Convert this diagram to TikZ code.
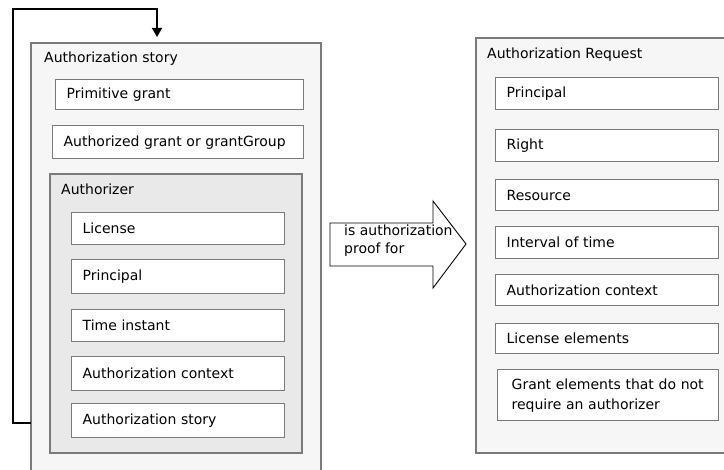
\documentclass[tikz,border=0pt]{standalone}
\usepackage{fontspec}
\setmainfont{DejaVu Sans}
\usetikzlibrary{arrows.meta}
\definecolor{frameline}{HTML}{7A7A7A}
\definecolor{panelfill}{HTML}{F6F6F6}
\definecolor{groupfill}{HTML}{E9E9E9}
\begin{document}
\begin{tikzpicture}[x=1pt,y=-1pt,
  every node/.style={font=\fontsize{14}{18}\selectfont},
  panel/.style={draw=frameline, fill=panelfill, line width=1.3pt},
  group/.style={draw=frameline, fill=groupfill, line width=1.3pt},
  field/.style={draw=frameline, fill=white, line width=1.3pt, anchor=north west,
    inner xsep=11pt, inner ysep=0pt, align=left, text width=#1},
  field/.default=190pt,
  caption/.style={anchor=base west, inner sep=0pt},
  loopline/.style={draw=black, line width=1.4pt, -{Triangle[width=10pt,length=9pt]}},
  bigarrow/.style={draw=black, fill=white, line width=0.9pt}]
\clip (0,0) rectangle (724,470);
\fill[white] (0,0) rectangle (724,470);

% ---- Authorization story panel ----
\path[panel] (31,43) rectangle (321,485);
\node[coordinate] (storytop) at (157,43) {};
\node[coordinate] (storyleft) at (31,423) {};
\node[caption] (storytitle) at (44,63) {Authorization story};
\node[field=226pt, minimum height=30pt] (prim) at (55,79) {Primitive grant};
\node[field=229pt, minimum height=33pt] (authg) at (52,125) {Authorized grant or grantGroup};

% ---- Authorizer group ----
\path[group] (50,174) rectangle (302,453);
\node[caption] (authorizertitle) at (61,195) {Authorizer};
\node[field=191pt, minimum height=32pt] (lic) at (71,212) {License};
\node[field=191pt, minimum height=34pt] (pri) at (71,259) {Principal};
\node[field=191pt, minimum height=32pt] (tim) at (71,309) {Time instant};
\node[field=191pt, minimum height=34pt] (ctx) at (71,356) {Authorization context};
\node[field=191pt, minimum height=34pt] (sto) at (71,403) {Authorization story};

% ---- recursion loop back to the top of the story ----
\draw[loopline, shorten >=6pt] (storyleft) -- (13,423) |- (157,9) -- (storytop);

% ---- Authorization Request panel ----
\path[panel] (476,38) rectangle (735,453);
\node[caption] (reqtitle) at (487,59) {Authorization Request};
\node[field=201pt, minimum height=32pt] (rpri) at (495,77) {Principal};
\node[field=201pt, minimum height=32pt] (rrig) at (495,129) {Right};
\node[field=201pt, minimum height=31pt] (rres) at (495,179) {Resource};
\node[field=201pt, minimum height=32pt] (rint) at (495,226) {Interval of time};
\node[field=201pt, minimum height=31pt] (rctx) at (495,274) {Authorization context};
\node[field=201pt, minimum height=30pt] (rlic) at (495,323) {License elements};
\node[field=193pt, inner xsep=14pt, minimum height=51pt, font=\fontsize{14}{20}\selectfont] (rgra) at (497,369) {Grant elements that do not\\require an authorizer};

% ---- "is authorization proof for" block arrow ----
\draw[bigarrow] (330,223) -- (433,223) -- (433,201) -- (466,244) -- (433,288)
  -- (433,266) -- (330,266) -- cycle;
\node[anchor=north west, inner sep=0pt, align=left, font=\fontsize{14}{18}\selectfont]
  (prooftext) at (344,225) {is authorization\\proof for};
\end{tikzpicture}
\end{document}
